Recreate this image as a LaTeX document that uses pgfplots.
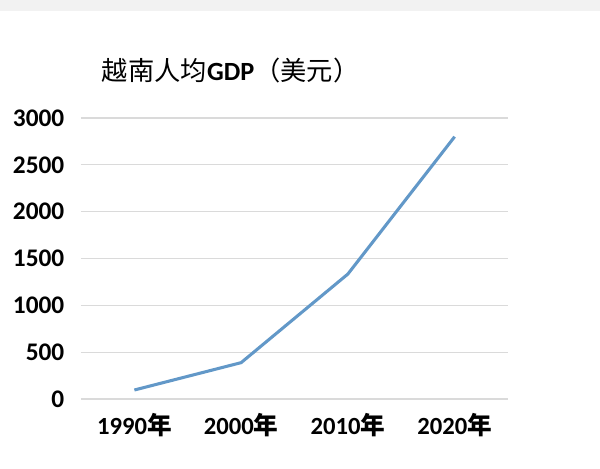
\documentclass[border=0pt]{standalone}
\usepackage{fontspec}
\setmainfont{Carlito}
\newfontfamily\cjk{Noto Sans CJK SC}
\usepackage{pgfplots}
\pgfplotsset{compat=1.18}
\definecolor{linecol}{HTML}{6298C8}
\definecolor{gridcol}{HTML}{DADADA}
\definecolor{band}{HTML}{F2F2F2}
\begin{document}
\begin{tikzpicture}[x=1pt,y=1pt]
\path[use as bounding box] (0,0) rectangle (450,351);
\fill[band] (0,343) rectangle (450,351);
\begin{axis}[
  at={(60.75pt,51.75pt)}, anchor=south west,
  scale only axis, width=320.25pt, height=210.75pt,
  xmin=-0.5, xmax=3.5, ymin=0, ymax=3000,
  xtick={0,1,2,3},
  xticklabels={{\bfseries 1990{\cjk 年}},{\bfseries 2000{\cjk 年}},{\bfseries 2010{\cjk 年}},{\bfseries 2020{\cjk 年}}},
  ytick={0,500,1000,1500,2000,2500,3000},
  yticklabel style={font=\fontsize{19}{19}\selectfont\bfseries},
  xticklabel style={font=\fontsize{18.5}{18.5}\selectfont, yshift=-7pt},
  yticklabel={\pgfmathprintnumber[assume math mode=true,1000 sep={}]{\tick}},
  axis line style={draw=none},
  major tick length=0pt,
  ymajorgrids, grid style={gridcol, line width=0.8pt},
  yticklabel style={xshift=-9pt},
  clip=false,
]
\addplot[linecol, line width=2.3pt, line join=round] coordinates {(0,96) (1,388) (2,1334) (3,2800)};
\end{axis}
\node[anchor=center] at (173,298) {\fontsize{19.7}{19.7}\selectfont{\cjk 越南人均}\textbf{GDP}{\cjk （美元）}};
\end{tikzpicture}
\end{document}
